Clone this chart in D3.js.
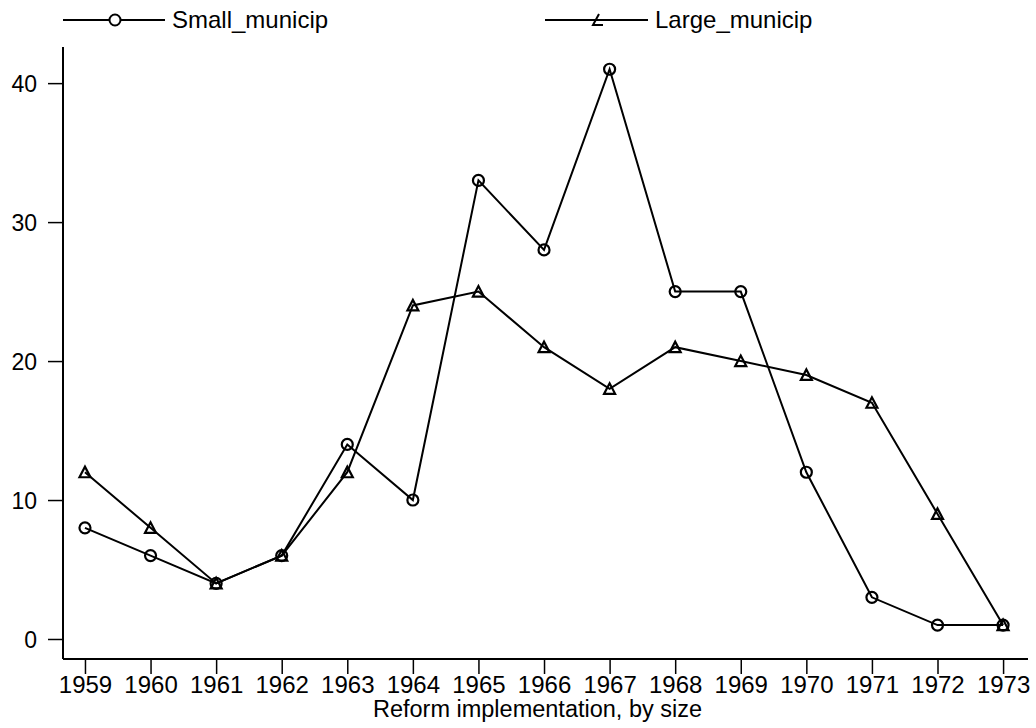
<!DOCTYPE html>
<html>
<head>
<meta charset="utf-8">
<script src="https://cdn.jsdelivr.net/npm/d3@7"></script>
<style>
  body { margin: 0; background: #fff; }
  text { font-family: "Liberation Sans", Arial, sans-serif; fill: #000; }
</style>
</head>
<body>
<div class="chart"></div>
<script>
// Data
var years = [1959, 1960, 1961, 1962, 1963, 1964, 1965, 1966, 1967, 1968, 1969, 1970, 1971, 1972, 1973];
var smallMunicip = [8, 6, 4, 6, 14, 10, 33, 28, 41, 25, 25, 12, 3, 1, 1];
var largeMunicip = [12, 8, 4, 6, 12, 24, 25, 21, 18, 21, 20, 19, 17, 9, 1];
var yTicks = [0, 10, 20, 30, 40];
var seriesNames = ["Small_municip", "Large_municip"];
var xTitle = "Reform implementation, by size";

var svgWidth = 1036;
var svgHeight = 728;

var svg = d3.select(".chart")
  .append("svg")
  .attr("width", svgWidth)
  .attr("height", svgHeight);

// plot region (axis lines)
var plotLeft = 63, plotRight = 1028, plotTop = 47, plotBottom = 659;

var x = d3.scaleLinear().domain([1958.665, 1973.38]).range([plotLeft, plotRight]);
var y = d3.scaleLinear().domain([-1.44, 42.6]).range([plotBottom, plotTop]);

// x axis
var xAxis = svg.append("g")
  .attr("transform", "translate(0," + plotBottom + ")")
  .call(d3.axisBottom(x).tickValues(years).tickFormat(d3.format("d")).tickSize(15).tickSizeOuter(0));
xAxis.select(".domain").attr("stroke-width", 2).attr("d", "M" + plotLeft + ",0H" + plotRight);
xAxis.selectAll(".tick line").attr("stroke-width", 1.5);
xAxis.selectAll(".tick text")
  .attr("y", 34)
  .attr("dy", 0)
  .style("font-size", "24px");

// y axis
var yAxis = svg.append("g")
  .attr("transform", "translate(" + plotLeft + ",0)")
  .call(d3.axisLeft(y).tickValues(yTicks).tickSize(15).tickSizeOuter(0));
yAxis.select(".domain").attr("stroke-width", 2).attr("d", "M0," + plotTop + "V" + plotBottom);
yAxis.selectAll(".tick line").attr("stroke-width", 1.5);
yAxis.selectAll(".tick text")
  .attr("x", -26)
  .attr("dy", "0.36em")
  .style("font-size", "23px");

// axis title
svg.append("text")
  .attr("x", (plotLeft + plotRight) / 2 - 8)
  .attr("y", 717)
  .attr("text-anchor", "middle")
  .style("font-size", "23.5px")
  .text(xTitle);

var line = d3.line()
  .x(function(d, i) { return x(years[i]); })
  .y(function(d) { return y(d); });

function triPath(cx, cy) {
  return "M" + (cx - 5.5) + "," + (cy + 5) + "L" + cx + "," + (cy - 5.5) + "L" + (cx + 5.5) + "," + (cy + 5) + "Z";
}

// series lines
svg.append("path").datum(smallMunicip)
  .attr("d", line).attr("fill", "none").attr("stroke", "#000").attr("stroke-width", 2);
svg.append("path").datum(largeMunicip)
  .attr("d", line).attr("fill", "none").attr("stroke", "#000").attr("stroke-width", 2);

// markers
svg.selectAll(".small-pt").data(smallMunicip).enter()
  .append("circle")
  .attr("class", "small-pt")
  .attr("cx", function(d, i) { return x(years[i]); })
  .attr("cy", function(d) { return y(d); })
  .attr("r", 5.5)
  .attr("fill", "none").attr("stroke", "#000").attr("stroke-width", 2.2);

svg.selectAll(".large-pt").data(largeMunicip).enter()
  .append("path")
  .attr("class", "large-pt")
  .attr("d", function(d, i) { return triPath(x(years[i]), y(d)); })
  .attr("fill", "none").attr("stroke", "#000").attr("stroke-width", 2.2);

// legend
var legend = svg.append("g");
legend.append("line").attr("x1", 63).attr("x2", 165).attr("y1", 20).attr("y2", 20)
  .attr("stroke", "#000").attr("stroke-width", 2);
legend.append("circle").attr("cx", 115).attr("cy", 20).attr("r", 5.5)
  .attr("fill", "#fff").attr("stroke", "#000").attr("stroke-width", 2);
legend.append("text").attr("x", 172).attr("y", 28).style("font-size", "24px").text(seriesNames[0]);

legend.append("line").attr("x1", 545).attr("x2", 648).attr("y1", 20).attr("y2", 20)
  .attr("stroke", "#000").attr("stroke-width", 2);
legend.append("path").attr("d", "M599,14L593,25L603,25")
  .attr("fill", "none").attr("stroke", "#000").attr("stroke-width", 2);
legend.append("text").attr("x", 655).attr("y", 28).style("font-size", "24px").text(seriesNames[1]);
</script>
</body>
</html>
